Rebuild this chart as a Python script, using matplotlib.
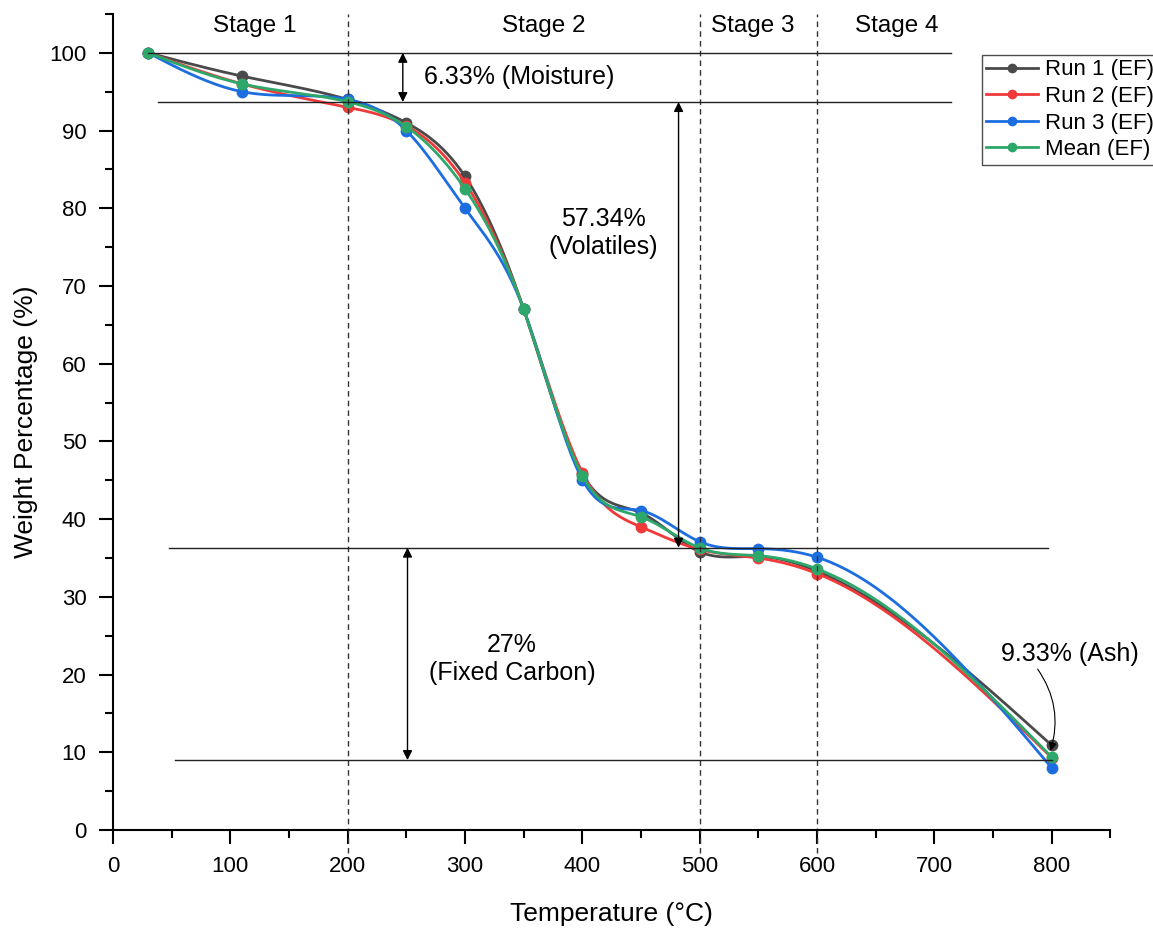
import numpy as np
import matplotlib
matplotlib.use("Agg")
import matplotlib.pyplot as plt
from matplotlib.ticker import MultipleLocator

plt.rcParams['font.family'] = ['Liberation Sans', 'DejaVu Sans']

# данные ТГА
temp = [30, 110, 200, 250, 300, 350, 400, 450, 500, 550, 600, 800]
run1 = [100, 97.0, 94.0, 91.0, 84.1, 67.0, 45.8, 40.8, 35.8, 35.2, 33.3, 10.9]
run2 = [100, 96.0, 93.0, 90.6, 83.3, 67.0, 46.0, 39.0, 36.1, 35.0, 33.0, 9.3]
run3 = [100, 95.0, 94.0, 90.0, 80.0, 67.0, 45.1, 41.1, 37.1, 36.2, 35.1, 8.0]
mean = [100, 96.0, 93.7, 90.5, 82.5, 67.0, 45.6, 40.3, 36.3, 35.3, 33.6, 9.4]

series = [("Run 1 (EF)", run1, "#4a4a4a"),
          ("Run 2 (EF)", run2, "#f03a3a"),
          ("Run 3 (EF)", run3, "#1c6ee0"),
          ("Mean (EF)", mean, "#2ea86a")]

stage_x = [200, 500, 600]
stage_labels = ["Stage 1", "Stage 2", "Stage 3", "Stage 4"]
stage_pos = [121, 367, 545, 668]

moisture, volatile_end, ash_level = 93.67, 36.33, 9.0


def spline(x, y, per=40):
    # естественный кубический сплайн, только для сглаживания линии
    x = np.asarray(x, float)
    y = np.asarray(y, float)
    n = len(x)
    h = np.diff(x)
    A = np.zeros((n, n))
    b = np.zeros(n)
    A[0, 0] = A[-1, -1] = 1
    for i in range(1, n - 1):
        A[i, i - 1] = h[i - 1]
        A[i, i] = 2 * (h[i - 1] + h[i])
        A[i, i + 1] = h[i]
        b[i] = 6 * ((y[i + 1] - y[i]) / h[i] - (y[i] - y[i - 1]) / h[i - 1])
    M = np.linalg.solve(A, b)
    xs, ys = [], []
    for i in range(n - 1):
        t = np.linspace(x[i], x[i + 1], per, endpoint=False)
        a, c = x[i + 1] - t, t - x[i]
        s = (M[i] * a**3 + M[i + 1] * c**3) / (6 * h[i]) \
            + (y[i] / h[i] - M[i] * h[i] / 6) * a \
            + (y[i + 1] / h[i] - M[i + 1] * h[i] / 6) * c
        xs.append(t)
        ys.append(s)
    xs.append([x[-1]])
    ys.append([y[-1]])
    return np.concatenate(xs), np.concatenate(ys)


fig = plt.figure(figsize=(11.53, 9.30), dpi=100)
ax = fig.add_axes([0.098, 0.1075, 0.865, 0.8775])

for label, vals, col in series:
    sx, sy = spline(temp, vals)
    ax.plot(sx, sy, color=col, lw=2)
    ax.plot(temp, vals, 'o', color=col, ms=7.5)
    ax.plot([], [], '-o', color=col, lw=2, ms=6, label=label)

# границы стадий
for xv in stage_x:
    ax.plot([xv, xv], [-3, 105], ls=(0, (4, 3)), color='#333333', lw=1,
            clip_on=False)
for lab, xp in zip(stage_labels, stage_pos):
    ax.text(xp, 103.4, lab, ha='center', va='center', fontsize=17.5)

# горизонтальные уровни
ax.plot([30, 714], [100, 100], color='#222222', lw=1)
ax.plot([38, 714], [moisture, moisture], color='#222222', lw=1)
ax.plot([48, 797], [volatile_end, volatile_end], color='#222222', lw=1)
ax.plot([53, 800], [ash_level, ash_level], color='#222222', lw=1)

arrow = dict(arrowstyle='<|-|>', color='black', lw=1, shrinkA=0, shrinkB=0,
             mutation_scale=14)
ax.annotate('', xy=(247, 100), xytext=(247, moisture), arrowprops=arrow)
ax.annotate('', xy=(482, moisture), xytext=(482, volatile_end), arrowprops=arrow)
ax.annotate('', xy=(251, volatile_end), xytext=(251, ash_level), arrowprops=arrow)

ax.text(265, 96.9, "6.33% (Moisture)", ha='left', va='center', fontsize=18)
ax.text(418, 76.8, "57.34%\n(Volatiles)", ha='center', va='center',
        fontsize=18, linespacing=1.25)
ax.text(340, 22.0, "27%\n(Fixed Carbon)", ha='center', va='center',
        fontsize=18, linespacing=1.25)
ax.annotate("9.33% (Ash)", xy=(799, 10.2), xytext=(757, 22.6),
            ha='left', va='center', fontsize=18, annotation_clip=False,
            arrowprops=dict(arrowstyle='-|>', color='black', lw=0.8,
                            shrinkA=0, shrinkB=0, mutation_scale=12,
                            relpos=(0.25, 0),
                            connectionstyle='arc3,rad=-0.25'))

ax.set_xlim(0, 850)
ax.set_ylim(0, 105)
ax.xaxis.set_major_locator(MultipleLocator(100))
ax.xaxis.set_minor_locator(MultipleLocator(50))
ax.yaxis.set_major_locator(MultipleLocator(10))
ax.yaxis.set_minor_locator(MultipleLocator(5))
ax.tick_params(which='major', direction='out', length=10, width=1.5,
               labelsize=16, pad=9)
ax.tick_params(which='minor', direction='out', length=6, width=1.5)
for side in ['top', 'right']:
    ax.spines[side].set_visible(False)
for side in ['left', 'bottom']:
    ax.spines[side].set_linewidth(1.5)

ax.set_xlabel("Temperature (°C)", fontsize=19, labelpad=18)
ax.set_ylabel("Weight Percentage (%)", fontsize=19, labelpad=8)

leg = fig.legend(loc='upper left', bbox_to_anchor=(982 / 1153, 1 - 55 / 930),
                 fontsize=16, frameon=True, fancybox=False, handlelength=2.3,
                 borderpad=0.2, labelspacing=0.25, handletextpad=0.35,
                 borderaxespad=0)
leg.get_frame().set_edgecolor('#222222')
leg.get_frame().set_linewidth(1)

fig.savefig('out.png', dpi=100, facecolor='white')
